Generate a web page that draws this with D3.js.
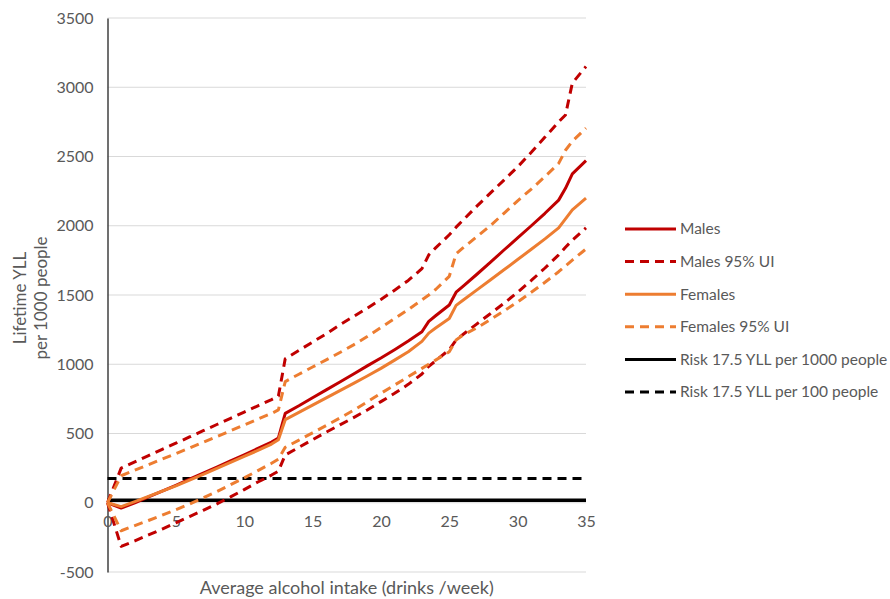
<!DOCTYPE html>
<html>
<head>
<meta charset="utf-8">
<script src="https://cdn.jsdelivr.net/npm/d3@7"></script>
<style>
  body { margin: 0; background: #fff; }
  text { font-family: Lato, "Open Sans", sans-serif; fill: #595959; }
</style>
</head>
<body>
<div id="chart"></div>
<script>
// drinks per week (x grid shared by all series)
var drinks = [0,1,2,3,4,5,6,7,8,9,10,11,12,12.5,13,14,15,16,17,18,19,20,21,22,23,23.5,24,25,25.5,26,27,28,29,30,31,32,33,33.5,34,35];

var malesMain = [0,-38,0,42,84,126,170,214,258,302,346,392,438,468,645,700,758,815,872,930,988,1045,1105,1168,1235,1310,1350,1428,1520,1562,1648,1735,1825,1912,2000,2090,2185,2270,2375,2470];
var malesUpper = [0,250,295,340,385,430,475,520,565,610,655,700,745,770,1040,1100,1160,1220,1285,1345,1405,1468,1535,1605,1690,1790,1840,1935,1990,2040,2140,2235,2330,2425,2530,2640,2750,2800,3030,3150];
var malesLower = [0,-315,-275,-232,-190,-145,-100,-55,-8,42,95,150,200,228,345,400,455,510,562,615,670,730,790,855,930,985,1025,1105,1175,1215,1290,1365,1440,1520,1605,1695,1790,1845,1895,1985];
var femalesMain = [0,-28,8,46,84,122,163,205,248,291,334,378,424,455,600,652,705,757,810,862,915,970,1030,1090,1165,1225,1262,1330,1425,1462,1535,1608,1682,1756,1830,1905,1985,2050,2115,2200];
var femalesUpper = [0,195,235,275,315,355,395,437,478,520,562,604,645,670,875,928,980,1032,1085,1140,1200,1265,1330,1395,1465,1500,1540,1635,1797,1840,1920,2000,2090,2180,2265,2355,2450,2545,2610,2705];
var femalesLower = [0,-202,-165,-128,-90,-50,-10,35,80,130,180,232,285,315,400,452,505,558,612,668,728,790,850,910,970,1000,1030,1090,1175,1210,1262,1322,1385,1450,1520,1592,1668,1710,1752,1832];

var riskLines = [17.5, 175];
var xTicks = [0,5,10,15,20,25,30,35];
var yTicks = [-500,0,500,1000,1500,2000,2500,3000,3500];

var legendLabels = ["Males","Males 95% UI","Females","Females 95% UI","Risk 17.5 YLL per 1000 people","Risk 17.5 YLL per 100 people"];

var red = "#C00000", orange = "#ED7D31", black = "#000000";

var width = 890, height = 599;
var margin = {top: 18, right: 304, bottom: 27, left: 107.5};
var innerWidth = width - margin.left - margin.right;
var innerHeight = height - margin.top - margin.bottom;

var svg = d3.select("#chart").append("svg")
  .attr("width", width)
  .attr("height", height);

var g = svg.append("g")
  .attr("transform", "translate(" + margin.left + "," + margin.top + ")");

var xScale = d3.scaleLinear().domain([0, 35]).range([0, innerWidth]);
var yScale = d3.scaleLinear().domain([-500, 3500]).range([innerHeight, 0]);

var plain = function(d) { return String(d); };

// gridlines
g.selectAll(".grid")
  .data(yTicks)
  .enter().append("line")
  .attr("class", "grid")
  .attr("x1", 0).attr("x2", innerWidth)
  .attr("y1", yScale).attr("y2", yScale)
  .attr("stroke", "#D9D9D9")
  .attr("stroke-width", 1);

// y axis
var yAxis = g.append("g")
  .call(d3.axisLeft(yScale).tickValues(yTicks).tickFormat(plain).tickSize(0).tickPadding(14));
yAxis.select(".domain").attr("stroke", "#404040").attr("stroke-width", 1.5);
yAxis.selectAll("text").style("font-size", "16px").attr("fill", "#595959");

// x axis labels sit just under the zero line
var xAxis = g.append("g")
  .attr("transform", "translate(0," + yScale(0) + ")")
  .call(d3.axisBottom(xScale).tickValues(xTicks).tickFormat(plain).tickSize(0).tickPadding(13));
xAxis.select(".domain").remove();
xAxis.selectAll("text").style("font-size", "16px").attr("fill", "#595959");

// series
var series = [
  {values: malesMain, color: red, dash: null},
  {values: malesUpper, color: red, dash: "9,6"},
  {values: malesLower, color: red, dash: "9,6"},
  {values: femalesMain, color: orange, dash: null},
  {values: femalesUpper, color: orange, dash: "9,6"},
  {values: femalesLower, color: orange, dash: "9,6"}
];

var line = d3.line()
  .x(function(d) { return xScale(d[0]); })
  .y(function(d) { return yScale(d[1]); });

// risk lines
g.selectAll(".risk")
  .data(riskLines)
  .enter().append("line")
  .attr("class", "risk")
  .attr("x1", xScale(0)).attr("x2", xScale(35))
  .attr("y1", yScale).attr("y2", yScale)
  .attr("stroke", black)
  .attr("stroke-width", function(d, i) { return i === 0 ? 3.5 : 3; })
  .attr("stroke-dasharray", function(d, i) { return i === 0 ? null : "9,6"; });

g.selectAll(".series")
  .data(series)
  .enter().append("path")
  .attr("class", "series")
  .attr("d", function(s) { return line(drinks.map(function(x, i) { return [x, s.values[i]]; })); })
  .attr("fill", "none")
  .attr("stroke", function(s) { return s.color; })
  .attr("stroke-width", 3)
  .attr("stroke-linejoin", "round")
  .attr("stroke-dasharray", function(s) { return s.dash; });

// axis titles
svg.append("text")
  .attr("x", margin.left + innerWidth / 2)
  .attr("y", 594)
  .attr("text-anchor", "middle")
  .style("font-size", "18px")
  .text("Average alcohol intake (drinks /week)");

var yTitle = svg.append("text")
  .attr("transform", "translate(26,298) rotate(-90)")
  .attr("text-anchor", "middle")
  .style("font-size", "17px");
yTitle.append("tspan").attr("x", 0).attr("dy", 0).text("Lifetime YLL");
yTitle.append("tspan").attr("x", 0).attr("dy", 21).text("per 1000 people");

// legend
var legendItems = [
  {color: red, dash: null},
  {color: red, dash: "9,6"},
  {color: orange, dash: null},
  {color: orange, dash: "9,6"},
  {color: black, dash: null},
  {color: black, dash: "9,6"}
];

var legend = svg.append("g").attr("transform", "translate(625,229)");
var rows = legend.selectAll(".row")
  .data(legendItems)
  .enter().append("g")
  .attr("class", "row")
  .attr("transform", function(d, i) { return "translate(0," + (i * 32.6) + ")"; });

rows.append("line")
  .attr("x1", 0).attr("x2", 51)
  .attr("y1", 0).attr("y2", 0)
  .attr("stroke", function(d) { return d.color; })
  .attr("stroke-width", 3)
  .attr("stroke-dasharray", function(d) { return d.dash; });

rows.append("text")
  .attr("x", 55)
  .attr("y", 0)
  .attr("dy", "0.35em")
  .style("font-size", "15.5px")
  .text(function(d, i) { return legendLabels[i]; });
</script>
</body>
</html>
